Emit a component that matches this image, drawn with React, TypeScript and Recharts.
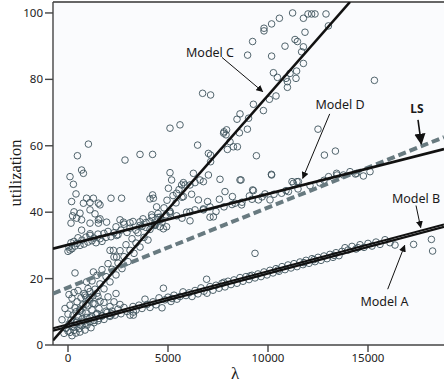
import React from 'react';
import { ScatterChart, Scatter, XAxis, YAxis, CartesianGrid, ReferenceLine } from 'recharts';

type Pt = [number, number];

// points hugging Model A
const bandA: Pt[] = [
  [300, 5.4], [450, 7.2], [600, 6.1], [700, 7.8], [850, 6.5], [950, 8.3], [1100, 7.0], [1200, 8.6],
  [1300, 7.4], [1450, 9.5], [1550, 8.0], [1700, 8.9], [1800, 7.7], [1950, 9.8], [2100, 8.6], [2200, 10.2],
  [2350, 9.0], [2500, 10.8], [2650, 9.4], [2800, 11.3], [2950, 10.1], [3100, 9.0], [3250, 11.6], [3400, 10.5],
  [3550, 12.0], [3700, 11.0], [3850, 13.8], [3950, 12.2], [4100, 11.3], [4250, 13.0], [4400, 12.1], [4550, 14.2],
  [4700, 11.2], [4850, 13.6], [5000, 14.4], [5150, 13.1], [5300, 15.0], [5450, 13.8], [5600, 14.6], [5750, 16.0],
  [5900, 14.9], [6050, 15.7], [6200, 14.6], [6350, 16.4], [6500, 15.4], [6650, 17.2], [6800, 16.2], [6950, 15.6],
  [7100, 17.6], [7250, 16.5], [7400, 18.0], [7550, 17.1], [7700, 18.6], [7850, 17.5], [8000, 19.2], [8150, 18.2],
  [8300, 19.6], [8450, 18.6], [8600, 20.3], [8750, 19.2], [8900, 20.6], [9050, 19.7], [9200, 21.0], [9350, 20.2],
  [9500, 21.4], [9650, 20.6], [9800, 22.0], [9950, 21.1], [10100, 22.5], [10250, 21.7], [10400, 23.0], [10550, 22.2],
  [10700, 23.6], [10850, 22.7], [11000, 24.1], [11150, 23.2], [11300, 24.5], [11450, 23.6], [11600, 25.0], [11750, 24.2],
  [11900, 25.5], [12050, 24.6], [12200, 26.0], [12350, 25.1], [12500, 26.4], [12650, 25.5], [12800, 26.8], [12950, 26.0],
  [13100, 27.3], [13250, 26.4], [13400, 27.8], [13550, 26.9], [13700, 28.2], [13850, 29.3], [14000, 28.6], [14200, 29.7],
  [14400, 28.9], [14600, 30.2], [14800, 29.4], [15000, 30.6], [15200, 29.8], [15400, 31.0], [15600, 30.3], [15850, 31.7],
  [16100, 30.8], [16350, 30.1], [17280, 30.3], [18170, 31.8], [18230, 28.3], [2100, 8.9], [3270, 9.9],
  [5200, 14.0], [7800, 18.9], [9100, 20.8], [10500, 22.6], [11800, 24.8], [12300, 25.7], [13300, 27.0], [14500, 29.3],
];

// dense blob near the origin
const blob: Pt[] = [
  [-200, 3.5], [-100, 5.0], [0, 4.2], [50, 6.3], [100, 3.8], [150, 7.5], [200, 5.6], [250, 9.0], [300, 4.4],
  [350, 11.2], [400, 6.8], [450, 13.0], [500, 8.4], [550, 4.9], [600, 10.3], [650, 14.2], [700, 5.8], [750, 12.1],
  [800, 7.2], [850, 15.0], [900, 9.6], [950, 6.0], [1000, 11.8], [1050, 13.6], [1100, 8.2], [1150, 5.2], [1200, 10.6],
  [1250, 14.8], [1300, 6.7], [1350, 12.4], [1400, 9.1], [1450, 15.6], [1500, 7.3], [1550, 11.0], [1600, 13.2],
  [1700, 8.7], [1800, 12.8], [1900, 10.2], [2000, 14.5], [2100, 11.6], [2200, 9.4], [2300, 13.0], [2400, 15.5],
  [2600, 12.2], [-300, 7.6], [0, 9.3], [100, 12.0], [200, 14.1], [300, 15.8], [400, 10.0], [500, 16.4], [200, 2.8],
  [400, 3.6], [700, 9.9], [900, 14.4], [1100, 16.1], [600, 3.9], [850, 4.5], [-150, 11.0], [50, 15.2],
];

// points hugging Model C
const bandC: Pt[] = [
  [600, 10.8], [800, 15.5], [900, 12.3], [1000, 17.0], [1100, 14.2], [1200, 19.3], [1250, 12.5], [1350, 16.8],
  [1450, 21.0], [1500, 14.6], [1600, 18.4], [1700, 22.7], [1800, 16.9], [1900, 20.6], [2000, 24.5], [2100, 19.0],
  [2200, 22.8], [2300, 26.5], [2400, 21.1], [2500, 24.7], [2600, 28.4], [2700, 23.0], [2800, 26.6], [2900, 30.2],
  [3000, 25.1], [3100, 28.5], [3200, 32.0], [3300, 27.6], [3400, 30.7], [3500, 33.8], [3600, 29.5], [3700, 35.7],
  [3800, 32.4], [3900, 36.9], [4000, 31.6], [4100, 34.8], [4200, 38.5], [4350, 36.2], [4500, 39.6], [4650, 37.8],
  [4800, 41.3], [4950, 43.6], [5100, 40.3], [5250, 45.0], [5400, 42.8], [5550, 46.8], [5700, 44.5], [5850, 48.2],
  [1270, 22.0], [930, 19.0], [350, 21.7], [2430, 26.5], [2270, 28.5],
  [5100, 65.3], [5600, 66.3], [6480, 60.2], [7020, 57.7], [7130, 57.2], [7130, 55.2], [7800, 64.2], [7930, 64.8],
  [7900, 63.3], [8570, 63.9], [8970, 65.0], [8100, 61.2], [8270, 59.7], [8470, 59.7], [7970, 58.9], [9420, 57.0],
  [8600, 69.6], [8450, 68.0], [9030, 68.3], [7780, 63.8], [9770, 70.6], [9270, 72.5], [10070, 74.0], [10400, 75.0],
  [10970, 77.6], [10470, 80.6], [10900, 80.3], [10970, 79.3], [11400, 80.3], [10270, 82.0], [11100, 81.8],
  [11430, 82.5], [11770, 84.8], [11680, 88.3], [11770, 89.8], [10850, 90.0], [11350, 92.0], [11470, 91.4],
  [11850, 94.2], [10180, 87.0], [8980, 87.3], [9230, 91.4], [9800, 95.4], [9800, 94.6], [10180, 96.7], [10570, 98.4],
  [11770, 98.4], [11230, 100], [12000, 99.7], [12180, 99.7], [12350, 99.7], [12900, 99.7], [13020, 96.1],
];

// points hugging Model D
const bandD: Pt[] = [
  [0, 28.2], [50, 29.5], [100, 28.6], [150, 30.8], [200, 29.0], [300, 31.2], [350, 29.8], [450, 30.6], [500, 32.3],
  [600, 30.0], [700, 31.6], [800, 30.4], [900, 32.5], [1000, 31.0], [1100, 33.0], [1200, 31.4], [1300, 32.2],
  [1400, 30.8], [1500, 33.4], [1600, 32.0], [1700, 31.2], [1800, 33.6], [1900, 32.4], [2000, 34.2], [2150, 32.6],
  [2300, 33.8], [2400, 35.6], [2500, 33.2], [2650, 34.6], [2800, 36.4], [2950, 33.9], [3100, 35.2], [3250, 37.2],
  [3400, 34.6], [3600, 36.0], [3750, 38.0], [3900, 35.4], [4100, 37.2], [4300, 36.4], [4500, 38.4], [4700, 37.0],
  [4900, 39.2], [5100, 40.1], [5430, 38.9], [6100, 40.1], [6350, 40.7], [6770, 40.7], [7100, 38.5], [6100, 37.4],
  [5700, 38.2], [7400, 40.2], [7800, 41.6], [8200, 42.3], [8700, 43.0], [9200, 43.9], [9700, 44.6], [10300, 45.4],
  [10900, 46.5], [11500, 47.0], [12100, 48.0], [12600, 48.8], [13030, 50.7], [13450, 51.2], [13430, 51.7],
  [13770, 51.2], [14100, 52.2], [14430, 51.7], [14770, 50.9], [15100, 52.2], [14370, 51.5], [12800, 49.6],
  [1100, 33.5], [2430, 33.0], [2100, 28.5], [5930, 40.0], [6770, 41.0], [7100, 41.6], [7270, 38.6],
];

// loose points above the bands
const loose: Pt[] = [
  [1020, 60.5], [470, 57.0], [680, 52.7], [770, 51.7], [100, 50.7], [270, 48.4], [2850, 55.7], [3600, 57.4],
  [4230, 57.4], [5100, 51.9], [5180, 49.7], [5020, 47.2], [400, 45.5], [180, 43.2], [930, 44.2], [1270, 44.2],
  [770, 42.7], [1100, 42.9], [1520, 42.7], [1600, 42.2], [2150, 44.2], [2680, 44.2], [4230, 45.2], [4270, 44.2],
  [300, 40.1], [600, 39.7], [230, 38.9], [430, 38.2], [680, 37.7], [1100, 40.7], [1350, 39.5], [1520, 37.7],
  [150, 36.7], [1100, 36.7], [1520, 36.7], [680, 34.6], [2600, 37.7], [3100, 36.8], [3600, 37.1], [4180, 39.2],
  [4600, 38.5], [5100, 39.7], [4930, 35.6], [4600, 35.6], [1600, 38.0], [1930, 37.0], [2770, 37.0], [4100, 44.0],
  [4430, 41.6], [4350, 36.0], [4770, 35.0], [6350, 48.9], [6270, 51.7], [6600, 49.7], [6770, 49.2], [7020, 51.2],
  [6100, 48.2], [5680, 48.2], [5770, 48.9], [7600, 49.9], [8600, 49.7], [10180, 51.2], [5430, 45.7], [5770, 44.7],
  [6180, 45.4], [6520, 43.7], [6980, 43.2], [7570, 43.9], [7850, 46.2], [8220, 44.7], [8350, 42.7], [8680, 42.2],
  [9070, 44.9], [9270, 46.5], [9520, 43.7], [9850, 45.5], [10100, 43.7], [10680, 45.7], [11020, 46.2],
  [11270, 48.7], [11520, 49.2], [15320, 79.7], [12500, 65.0], [12820, 57.2], [13370, 58.4], [10170, 51.4],
  [8650, 49.7], [9230, 46.7], [11200, 49.2], [11450, 49.2], [6730, 75.8], [7130, 75.3], [9350, 27.6],
  [4770, 17.1], [6930, 19.8], [3270, 9.0],
];

// fitted lines, two end points each
const modelA: Pt[] = [[-750, 4.3], [18800, 35.6]];
const modelB: Pt[] = [[-750, 5.0], [18800, 36.3]];
const modelC: Pt[] = [[-750, 1.4], [14100, 103.3]];
const modelD: Pt[] = [[-750, 29.0], [18800, 59.0]];
const lsLine: Pt[] = [[-750, 15.5], [18800, 62.6]];

const xTicks = [0, 5000, 10000, 15000];
const yTicks = [0, 20, 40, 60, 80, 100];

// annotation labels: [text, textX, textY, arrowFromX, arrowFromY, arrowToX, arrowToY]
const notes: [string, number, number, number, number, number, number][] = [
  ['Model C', 7100, 88, 7700, 86.6, 9735, 76.3],
  ['Model D', 13600, 72.3, 13085, 69.6, 11735, 50.2],
  ['LS', 17450, 71.2, 17500, 67.8, 17665, 60.6],
  ['Model B', 17400, 44.2, 17400, 42.0, 17635, 35.4],
  ['Model A', 15825, 13.2, 15985, 16.8, 16835, 30.0],
];

const X_DOMAIN: [number, number] = [-750, 18800];
const Y_DOMAIN: [number, number] = [0, 103.3];
const W = 444;
const H = 383;
const PLOT = { left: 53, top: 2, width: 391, height: 343 };

const toObj = (pts: Pt[]) => pts.map(([x, y]) => ({ x, y }));
const px = (x: number) => PLOT.left + ((x - X_DOMAIN[0]) / (X_DOMAIN[1] - X_DOMAIN[0])) * PLOT.width;
const py = (y: number) => PLOT.top + PLOT.height - ((y - Y_DOMAIN[0]) / (Y_DOMAIN[1] - Y_DOMAIN[0])) * PLOT.height;

const ring = (props: any) => (
  <circle cx={props.cx} cy={props.cy} r={3.3} fill="none" stroke="#3e535c" strokeWidth={0.9} />
);
const none = () => <g />;

const sans = '"Noto Sans", "Open Sans", sans-serif';

function Annotations() {
  return (
    <svg width={W} height={H} style={{ position: 'absolute', left: 0, top: 0, pointerEvents: 'none' }}>
      <defs>
        <marker id="head" viewBox="0 0 10 10" refX="9" refY="5" markerWidth="7" markerHeight="7" orient="auto">
          <path d="M0,0 L10,5 L0,10 z" fill="#111" />
        </marker>
      </defs>
      {notes.map(([label, tx, ty, ax, ay, bx, by]) => (
        <g key={label}>
          <text
            x={px(tx)}
            y={py(ty)}
            textAnchor="middle"
            dominantBaseline="central"
            fontFamily={sans}
            fontSize={label === 'LS' ? 12 : 12.5}
            fontWeight={label === 'LS' ? 700 : 400}
            fill="#1a1a1a"
          >
            {label}
          </text>
          <line x1={px(ax)} y1={py(ay)} x2={px(bx)} y2={py(by)} stroke="#111" strokeWidth={label === 'LS' ? 1.6 : 1} markerEnd="url(#head)" />
        </g>
      ))}
      <text
        transform="translate(21,173) rotate(-90)"
        textAnchor="middle"
        fontFamily='"Liberation Serif", "DejaVu Serif", serif'
        fontSize={16.5}
        fill="#1a1a1a"
      >
        utilization
      </text>
      <text x={235} y={379} textAnchor="middle" fontFamily='"Liberation Serif", "DejaVu Serif", serif' fontSize={17} fill="#1a1a1a">
        λ
      </text>
    </svg>
  );
}

export default function App() {
  const axisColor = '#444';
  const tick = { fontSize: 11.5, fill: '#222', fontFamily: sans };
  const groups = [bandA, blob, bandC, bandD, loose];
  return (
    <div style={{ position: 'relative', width: W, height: H, background: '#fff' }}>
      <style>{'body{margin:0}'}</style>
      <ScatterChart width={W} height={H} margin={{ top: 2, right: 0, bottom: 8, left: 8 }}>
        <CartesianGrid horizontal={false} vertical={false} fill="#fafbfd" />
        <XAxis
          type="number"
          dataKey="x"
          domain={X_DOMAIN}
          ticks={xTicks}
          allowDataOverflow
          height={30}
          tickSize={7}
          tickMargin={2}
          stroke={axisColor}
          strokeWidth={1.4}
          tick={tick}
        />
        <YAxis
          type="number"
          dataKey="y"
          domain={Y_DOMAIN}
          ticks={yTicks}
          allowDataOverflow
          width={45}
          tickSize={8}
          tickMargin={2}
          stroke={axisColor}
          strokeWidth={1.4}
          tick={tick}
        />
        <ReferenceLine y={Y_DOMAIN[1]} stroke="#666" strokeWidth={2} />
        {groups.map((g, i) => (
          <Scatter key={i} data={toObj(g)} shape={ring} isAnimationActive={false} />
        ))}
        <Scatter data={toObj(lsLine)} shape={none} line={{ stroke: '#687a80', strokeWidth: 4, strokeDasharray: '8 4' }} isAnimationActive={false} />
        <Scatter data={toObj(modelD)} shape={none} line={{ stroke: '#111', strokeWidth: 2.6 }} isAnimationActive={false} />
        <Scatter data={toObj(modelC)} shape={none} line={{ stroke: '#111', strokeWidth: 2.6 }} isAnimationActive={false} />
        <Scatter data={toObj(modelB)} shape={none} line={{ stroke: '#111', strokeWidth: 2 }} isAnimationActive={false} />
        <Scatter data={toObj(modelA)} shape={none} line={{ stroke: '#111', strokeWidth: 2.2 }} isAnimationActive={false} />
      </ScatterChart>
      <Annotations />
    </div>
  );
}
